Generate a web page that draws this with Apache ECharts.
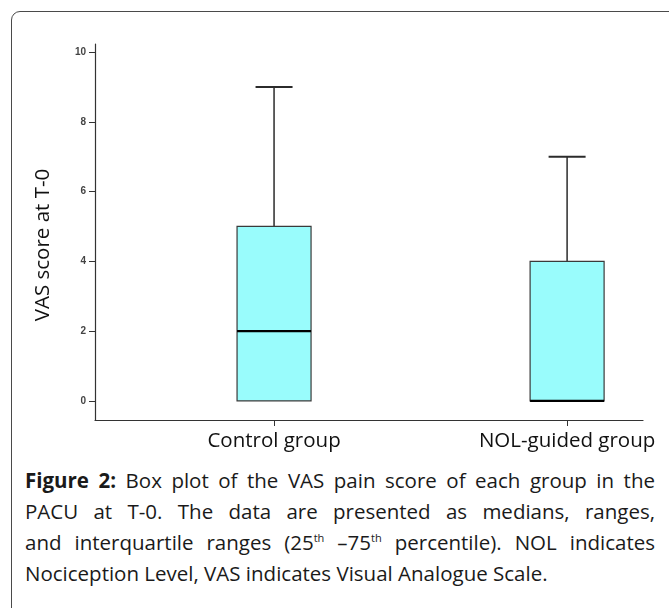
<!DOCTYPE html>
<html>
<head>
<meta charset="utf-8">
<script src="https://cdn.jsdelivr.net/npm/echarts@6/dist/echarts.min.js"></script>
<style>
	body { margin: 0; background: #fff; }
	#frame { position: absolute; left: 11px; top: 11px; width: 720px; height: 700px; border: 1px solid #4a4a4a; border-radius: 9px; }
	#chart { position: absolute; left: 0; top: 0; width: 669px; height: 460px; }
	#caption { position: absolute; left: 25px; top: 465px; width: 630px; font-family: 'Open Sans', sans-serif; font-size: 20.5px; line-height: 31px; color: #1a1a1a; }
	#caption .ln { white-space: nowrap; text-align: justify; text-align-last: justify; }
	#caption .ln.last { text-align: left; text-align-last: left; }
	#caption sup { font-size: 11px; line-height: 0; }
</style>
</head>
<body>
<div id="frame"></div>
<div id="chart"></div>
<div id="caption">
	<div class="ln"><b>Figure 2:</b> Box plot of the VAS pain score of each group in the</div>
	<div class="ln">PACU at T-0. The data are presented as medians, ranges,</div>
	<div class="ln">and interquartile ranges (25<sup>th</sup> –75<sup>th</sup> percentile). NOL indicates</div>
	<div class="ln last">Nociception Level, VAS indicates Visual Analogue Scale.</div>
</div>
<script>
var categories = ['Control group', 'NOL-guided group'];
var minValues = [0, 0];
var q1Values = [0, 0];
var medianValues = [2, 0];
var q3Values = [5, 4];
var maxValues = [9, 7];
var yTicks = [0, 2, 4, 6, 8, 10];
var xTicks = [0, 1];

var chart = echarts.init(document.getElementById('chart'));

var boxData = categories.map(function (c, i) {
	return [i, minValues[i], q1Values[i], medianValues[i], q3Values[i], maxValues[i]];
});

// box: 74px wide, caps half of that
function renderBox(params, api) {
	var i = api.value(0);
	var x = api.coord([i, 0])[0];
	var yMin = api.coord([i, api.value(1)])[1];
	var yQ1 = api.coord([i, api.value(2)])[1];
	var yMed = api.coord([i, api.value(3)])[1];
	var yQ3 = api.coord([i, api.value(4)])[1];
	var yMax = api.coord([i, api.value(5)])[1];
	var half = 37, cap = 18.5;
	var lineStyle = { stroke: '#2b2b2b', lineWidth: 1.5 };
	var children = [];
	if (yMax < yQ3) {
		children.push({ type: 'line', shape: { x1: x, y1: yQ3, x2: x, y2: yMax }, style: lineStyle });
		children.push({ type: 'line', shape: { x1: x - cap, y1: yMax, x2: x + cap, y2: yMax }, style: { stroke: '#2b2b2b', lineWidth: 2 } });
	}
	if (yMin > yQ1) {
		children.push({ type: 'line', shape: { x1: x, y1: yQ1, x2: x, y2: yMin }, style: lineStyle });
		children.push({ type: 'line', shape: { x1: x - cap, y1: yMin, x2: x + cap, y2: yMin }, style: { stroke: '#2b2b2b', lineWidth: 2 } });
	}
	children.push({
		type: 'rect',
		shape: { x: x - half, y: yQ3, width: half * 2, height: yQ1 - yQ3 },
		style: { fill: '#99fcfc', stroke: '#3a3a3a', lineWidth: 1.2 }
	});
	children.push({ type: 'line', shape: { x1: x - half, y1: yMed, x2: x + half, y2: yMed }, style: { stroke: '#000', lineWidth: 2.2 } });
	return { type: 'group', children: children };
}

// axis spans a bit past both groups, as in the SPSS output
var xMin = -0.611, xMax = 1.259;
var yMin = -0.55, yMax = 10.23;

var option = {
	animation: false,
	backgroundColor: 'transparent',
	grid: { left: 95, right: 26, top: 44, bottom: 40 },
	xAxis: {
		type: 'value', min: xMin, max: xMax,
		axisLine: { onZero: false, lineStyle: { color: '#333', width: 1.2 } },
		axisTick: { show: true, length: 6, customValues: xTicks, lineStyle: { color: '#333' } },
		axisLabel: {
			customValues: xTicks, margin: 11, fontFamily: 'Open Sans', fontSize: 20.5, color: '#111',
			formatter: function (v) { return categories[Math.round(v)]; }
		},
		splitLine: { show: false }
	},
	yAxis: {
		type: 'value', min: yMin, max: yMax,
		axisLine: { show: true, onZero: false, lineStyle: { color: '#333', width: 1.2 } },
		axisTick: { show: true, length: 6, customValues: yTicks, lineStyle: { color: '#333' } },
		axisLabel: { customValues: yTicks, margin: 9, fontFamily: 'Arial', fontSize: 10, fontWeight: 'bold', color: '#444' },
		splitLine: { show: false }
	},
	graphic: [{
		type: 'text', x: 43, y: 245, rotation: Math.PI / 2,
		style: { text: 'VAS score at T-0', font: '20.5px "Open Sans"', fill: '#111', align: 'center', verticalAlign: 'middle' }
	}],
	series: [{
		type: 'custom',
		renderItem: renderBox,
		encode: { x: 0, y: [1, 2, 3, 4, 5] },
		data: boxData
	}]
};
chart.setOption(option);
</script>
</body>
</html>
